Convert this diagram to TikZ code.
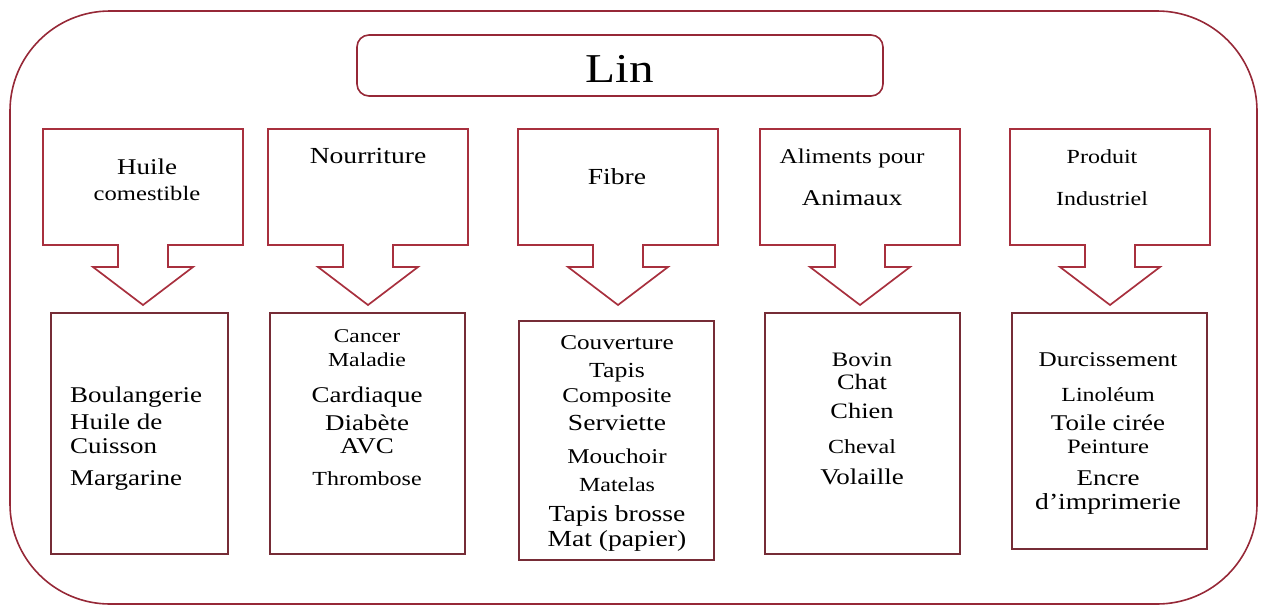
\documentclass[tikz,border=0pt]{standalone}
\usepackage{fontspec}
\setmainfont{Liberation Serif}
\usepackage{graphicx}
\definecolor{arrowred}{RGB}{168,48,62}
\definecolor{boxbrown}{RGB}{118,44,54}
\definecolor{framered}{RGB}{150,40,55}
\newcommand\stretchx[1]{\scalebox{1.2}[1]{#1}}
\newcommand\fsz[1]{\fontsize{#1}{22}\selectfont}
\tikzset{
  calloutline/.style={draw=arrowred, line width=1.7pt, line join=miter},
  listbox/.style={draw=boxbrown, line width=1.5pt},
  framebox/.style={draw=framered, line width=1.6pt},
  lbl/.style={inner sep=0pt, anchor=base, text=black},
  pics/downcallout/.style={code={
    \draw[calloutline] (-100,129) -- (100,129) -- (100,245) -- (25,245) -- (25,267)
      -- (50,267) -- (0,305) -- (-50,267) -- (-25,267) -- (-25,245) -- (-100,245) -- cycle;
  }}
}
\begin{document}
\begin{tikzpicture}[x=1pt,y=-1pt]
\useasboundingbox (0,0) rectangle (1264,606);
% outer frame
\draw[framebox, rounded corners=100pt] (10,11) rectangle (1257,604);
% title
\node[framebox, rounded corners=12pt, minimum width=526pt, minimum height=61pt,
      text height=33pt, text depth=0pt, inner sep=0pt, font=\fontsize{41}{41}\selectfont]
      (lin) at (620,65.5) {\stretchx{Lin}};
% callout arrows
\pic at (143,0) {downcallout};
\pic at (368,0) {downcallout};
\pic at (618,0) {downcallout};
\pic at (860,0) {downcallout};
\pic at (1110,0) {downcallout};
% callout labels
\node[lbl] (h1) at (147,174) {\stretchx{\fsz{22}\begin{tabular}[t]{@{}c@{}}{\fsz{22.5}Huile}\\[4pt]{\fsz{20.5}comestible}\end{tabular}}};
\node[lbl] (h2) at (368,163) {\stretchx{\fsz{23}Nourriture}};
\node[lbl] (h3) at (617,184) {\stretchx{\fsz{23}Fibre}};
\node[lbl] (h4) at (852,163) {\stretchx{\fsz{22}\begin{tabular}[t]{@{}c@{}}{\fsz{21}Aliments pour}\\[20pt]{\fsz{22.5}Animaux}\end{tabular}}};
\node[lbl] (h5) at (1102,163) {\stretchx{\fsz{22}\begin{tabular}[t]{@{}c@{}}{\fsz{20}Produit}\\[20pt]{\fsz{20}Industriel}\end{tabular}}};
% list boxes
\draw[listbox] (51,313) rectangle (228,554);
\draw[listbox] (270,313) rectangle (465,554);
\draw[listbox] (519,321) rectangle (714,560);
\draw[listbox] (765,313) rectangle (960,554);
\draw[listbox] (1012,313) rectangle (1207,549);
% list texts
\node[lbl, anchor=base west] (l1) at (70,402) {\stretchx{\fsz{22}\begin{tabular}[t]{@{}l@{}}
  {\fsz{22.5}Boulangerie}\\[5pt]
  {\fsz{22.5}Huile de}\\[2pt]
  {\fsz{22.5}Cuisson}\\[10pt]
  {\fsz{22.5}Margarine}\end{tabular}}};
\node[lbl] (l2) at (367,342) {\stretchx{\fsz{22}\begin{tabular}[t]{@{}c@{}}
  {\fsz{19.5}Cancer}\\[2pt]
  {\fsz{19.8}Maladie}\\[14pt]
  {\fsz{22.5}Cardiaque}\\[6pt]
  {\fsz{22.5}Diabète}\\[1pt]
  {\fsz{22.5}AVC}\\[10pt]
  {\fsz{20}Thrombose}\end{tabular}}};
\node[lbl] (l3) at (617,349) {\stretchx{\fsz{22}\begin{tabular}[t]{@{}c@{}}
  {\fsz{21}Couverture}\\[6pt]
  {\fsz{21.5}Tapis}\\[3pt]
  {\fsz{21}Composite}\\[6pt]
  {\fsz{23}Serviette}\\[11pt]
  {\fsz{21}Mouchoir}\\[6pt]
  {\fsz{20}Matelas}\\[8pt]
  {\fsz{23}Tapis brosse}\\[2pt]
  {\fsz{23}Mat (papier)}\end{tabular}}};
\node[lbl] (l4) at (862,366) {\stretchx{\fsz{22}\begin{tabular}[t]{@{}c@{}}
  {\fsz{20.5}Bovin}\\[1pt]
  {\fsz{22}Chat}\\[7pt]
  {\fsz{22}Chien}\\[13pt]
  {\fsz{20}Cheval}\\[9pt]
  {\fsz{22.5}Volaille}\end{tabular}}};
\node[lbl] (l5) at (1108,366) {\stretchx{\fsz{22}\begin{tabular}[t]{@{}c@{}}
  {\fsz{21}Durcissement}\\[13pt]
  {\fsz{20}Linoléum}\\[7pt]
  {\fsz{22.5}Toile cirée}\\[1pt]
  {\fsz{20.5}Peinture}\\[10pt]
  {\fsz{22.5}Encre}\\[2pt]
  {\fsz{23}d’imprimerie}\end{tabular}}};
\end{tikzpicture}
\end{document}
